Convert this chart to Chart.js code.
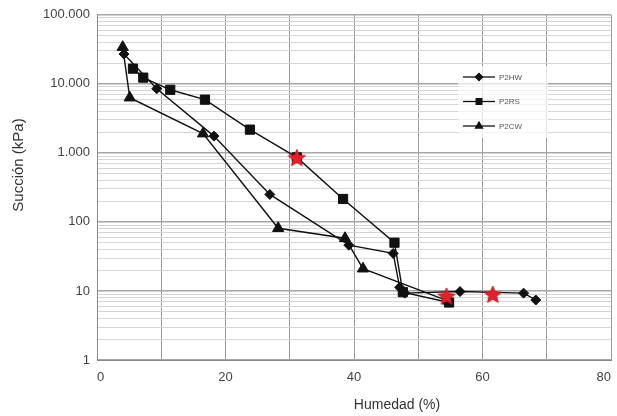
<!DOCTYPE html>
<html>
<head>
<meta charset="utf-8">
<script src="https://cdn.jsdelivr.net/npm/chart.js@4/dist/chart.umd.min.js"></script>
<style>
  html,body{margin:0;padding:0;background:#fff}
  #wrap{width:617px;height:416px}
</style>
</head>
<body>
<div id="wrap"><canvas id="chart" width="617" height="416"></canvas></div>
<script>
// humedad (%) / succion (kPa)
const hwX = [4.2, 9.3, 18.2, 26.9, 39.2, 46.1, 47.1, 47.9, 56.5, 66.4, 68.3];
const hwY = [27000, 8500, 1750, 250, 46, 35, 11.3, 9.3, 9.8, 9.3, 7.4];
const rsX = [5.6, 7.2, 11.4, 16.8, 23.8, 31.1, 38.3, 46.3, 47.6, 54.8];
const rsY = [16600, 12300, 8200, 5900, 2170, 860, 215, 50, 9.6, 6.8];
const cwX = [4.0, 5.1, 16.5, 28.2, 38.6, 41.4, 54.6];
const cwY = [34000, 6300, 1900, 81, 58, 21, 7.2];
const starX = [31.1, 54.4, 61.6];
const starY = [860, 8.5, 9.0];
const seriesNames = ['P2HW', 'P2RS', 'P2CW'];
const yTickValues = [1, 10, 100, 1000, 10000, 100000];
const yTickLabels = ['1', '10', '100', '1.000', '10.000', '100.000'];
const xTickLabels = ['0', '20', '40', '60', '80'];
const xTitle = 'Humedad (%)';
const yTitle = 'Succión (kPa)';

function pts(xs, ys){ return xs.map((x,i)=>({x:x, y:ys[i]})); }

const FONT = '"Liberation Sans", Arial, sans-serif';

// filled red star used as point style
function makeStar(size){
  const c = document.createElement('canvas');
  c.width = size; c.height = size;
  const g = c.getContext('2d');
  const cx = size/2, cy = size/2 + 1, R = size/2 - 1, r = R*0.45;
  g.beginPath();
  for(let i=0;i<10;i++){
    const a = -Math.PI/2 + i*Math.PI/5;
    const rr = i%2 ? r : R;
    g.lineTo(cx + rr*Math.cos(a), cy + rr*Math.sin(a));
  }
  g.closePath();
  g.fillStyle = '#e3202c';
  g.fill();
  g.strokeStyle = '#c4161f';
  g.lineWidth = 1;
  g.stroke();
  return c;
}
const starImg = makeStar(20);

const styles = ['rectRot', 'rect', 'triangle'];
const radii = [5, 6.5, 6.5];

// legend inside the plot + axis titles placed like the original
const extras = {
  id: 'extras',
  afterDraw(chart){
    const ctx = chart.ctx;
    ctx.save();
    ctx.fillStyle = 'rgba(255,255,255,0.7)';
    ctx.fillRect(458, 66, 90, 72);
    seriesNames.forEach((name, i) => {
      const y = 77 + i*24.5;
      ctx.strokeStyle = '#111';
      ctx.lineWidth = 1.3;
      ctx.beginPath(); ctx.moveTo(463, y); ctx.lineTo(495, y); ctx.stroke();
      ctx.fillStyle = '#111';
      Chart.helpers.drawPoint(ctx, {pointStyle: styles[i], radius: i===0 ? 3.5 : 4, borderWidth: 1}, 479, y);
      ctx.fill();
      ctx.fillStyle = '#555';
      ctx.font = '8px ' + FONT;
      ctx.textBaseline = 'middle';
      ctx.fillText(name, 499, y + 0.5);
    });
    ctx.fillStyle = '#333';
    ctx.textAlign = 'center';
    ctx.textBaseline = 'middle';
    ctx.font = '14px ' + FONT;
    ctx.fillText(xTitle, 397, 405);
    ctx.translate(19, 165);
    ctx.rotate(-Math.PI/2);
    ctx.font = '15px ' + FONT;
    ctx.fillText(yTitle, 0, 0);
    ctx.restore();
  }
};

const mkSet = (label, data, i) => ({
  label: label,
  data: data,
  showLine: true,
  borderColor: '#111',
  backgroundColor: '#111',
  borderWidth: 1.4,
  pointStyle: styles[i],
  pointRadius: radii[i],
  pointBorderWidth: 1,
  pointBorderColor: '#111',
  pointBackgroundColor: '#111',
  tension: 0
});

new Chart(document.getElementById('chart').getContext('2d'), {
  type: 'scatter',
  data: {
    datasets: [
      {label: 'stars', data: pts(starX, starY), order: -1, showLine: false,
       pointStyle: starImg, pointRadius: 10, backgroundColor: '#e3202c', borderColor: '#e3202c'},
      mkSet(seriesNames[0], pts(hwX, hwY), 0),
      mkSet(seriesNames[1], pts(rsX, rsY), 1),
      mkSet(seriesNames[2], pts(cwX, cwY), 2)
    ]
  },
  options: {
    responsive: false,
    animation: false,
    layout: {autoPadding: false, padding: {top: 14, right: 6, left: 0, bottom: 0}},
    plugins: {legend: {display: false}, tooltip: {enabled: false}},
    scales: {
      x: {
        type: 'linear', min: 0, max: 80,
        ticks: {
          stepSize: 10, padding: 10, color: '#444', maxRotation: 0, align: 'inner',
          font: {family: FONT, size: 13},
          callback: v => (v % 20 === 0 ? xTickLabels[v/20] : '')
        },
        grid: {color: '#9c9c9c', lineWidth: 1, drawTicks: false},
        border: {color: '#8a8a8a'},
        afterFit: s => { s.height = 56; s.paddingRight = 0; s.paddingLeft = 0; }
      },
      y: {
        type: 'logarithmic', min: 1, max: 100000,
        afterBuildTicks: s => {
          const t = [];
          for (let d = 1; d < 100000; d *= 10) for (let m = 1; m < 10; m++) t.push({value: d*m});
          t.push({value: 100000});
          s.ticks = t;
        },
        ticks: {
          padding: 7, color: '#444', autoSkip: false,
          font: {family: FONT, size: 13},
          callback: v => { const k = yTickValues.indexOf(v); return k >= 0 ? yTickLabels[k] : ''; }
        },
        grid: {
          drawTicks: false,
          color: c => (yTickValues.indexOf(c.tick && c.tick.value) >= 0 ? '#a6a6a6' : '#d6d6d6'),
          lineWidth: c => (yTickValues.indexOf(c.tick && c.tick.value) >= 0 ? 1.5 : 1)
        },
        border: {color: '#8a8a8a'},
        afterFit: s => { s.width = 97; }
      }
    }
  },
  plugins: [extras]
});
</script>
</body>
</html>
